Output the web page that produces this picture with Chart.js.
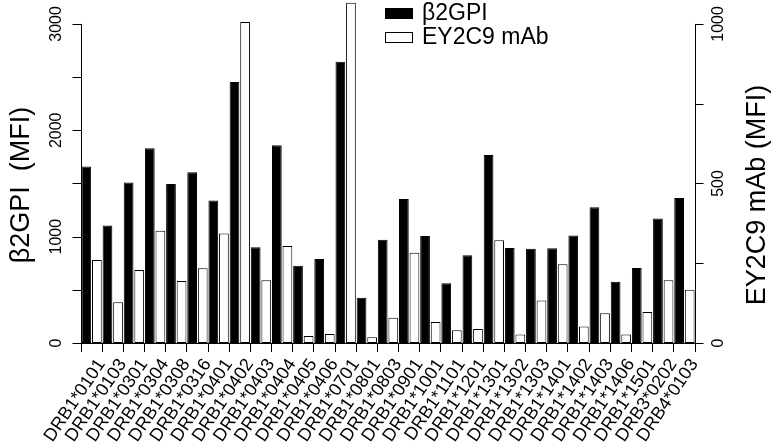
<!DOCTYPE html>
<html>
<head>
<meta charset="utf-8">
<script src="https://cdn.jsdelivr.net/npm/chart.js@4.4.0/dist/chart.umd.min.js"></script>
<style>
  html, body { margin: 0; padding: 0; background: #fff; }
  #wrap { width: 774px; height: 443px; }
</style>
</head>
<body>
<div id="wrap"><canvas id="chart" width="774" height="443"></canvas></div>
<script>
// Data
const alleles = ['DRB1*0101', 'DRB1*0103', 'DRB1*0301', 'DRB1*0304', 'DRB1*0308', 'DRB1*0316',
    'DRB1*0401', 'DRB1*0402', 'DRB1*0403', 'DRB1*0404', 'DRB1*0405', 'DRB1*0406', 'DRB1*0701',
    'DRB1*0801', 'DRB1*0803', 'DRB1*0901', 'DRB1*1001', 'DRB1*1101', 'DRB1*1201', 'DRB1*1301',
    'DRB1*1302', 'DRB1*1303', 'DRB1*1401', 'DRB1*1402', 'DRB1*1403', 'DRB1*1406', 'DRB1*1501',
    'DRB3*0202', 'DRB4*0103'];
const b2gpi = [1660, 1105, 1510, 1830, 1495, 1605, 1340, 2455, 900, 1860, 727, 790, 2645,
    426, 970, 1355, 1005, 561, 825, 1768, 893, 887, 890, 1010, 1276, 577, 705, 1170, 1364];
const ey2c9 = [260, 128, 229, 352, 194, 234, 343, 1006, 197, 304, 22, 28, 1066,
    18, 79, 283, 66, 40, 44, 322, 27, 133, 247, 52, 93, 27, 97, 197, 167];

const leftTicks = [0, 500, 1000, 1500, 2000, 2500, 3000];
const leftLabels = [0, 1000, 2000, 3000];
const rightTicks = [0, 250, 500, 750, 1000];
const rightLabels = [0, 500, 1000];

const FONT = "'Liberation Sans', Arial, Helvetica, sans-serif";

// R-style axes, titles and legend drawn on top of the chart
const rAxes = {
    id: 'rAxes',
    afterDraw(chart) {
        const ctx = chart.ctx;
        const area = chart.chartArea;
        const y = chart.scales.y;
        const y2 = chart.scales.y2;
        ctx.save();
        ctx.strokeStyle = '#000';
        ctx.fillStyle = '#000';
        ctx.lineWidth = 1;

        // left axis
        const lx = Math.round(area.left) + 0.5;
        ctx.beginPath();
        ctx.moveTo(lx, y.getPixelForValue(leftTicks[leftTicks.length - 1]));
        ctx.lineTo(lx, y.getPixelForValue(0));
        leftTicks.forEach(v => {
            const py = Math.round(y.getPixelForValue(v)) + 0.5;
            ctx.moveTo(lx, py);
            ctx.lineTo(lx - 9, py);
        });
        ctx.stroke();

        // right axis
        const rx = Math.round(area.right) + 0.5;
        ctx.beginPath();
        ctx.moveTo(rx, y2.getPixelForValue(rightTicks[rightTicks.length - 1]));
        ctx.lineTo(rx, y2.getPixelForValue(0));
        rightTicks.forEach(v => {
            const py = Math.round(y2.getPixelForValue(v)) + 0.5;
            ctx.moveTo(rx, py);
            ctx.lineTo(rx + 8, py);
        });
        ctx.stroke();

        // tick labels, rotated
        ctx.font = '16px ' + FONT;
        ctx.textAlign = 'center';
        ctx.textBaseline = 'middle';
        leftLabels.forEach(v => {
            ctx.save();
            ctx.translate(area.left - 24, y.getPixelForValue(v));
            ctx.rotate(-Math.PI / 2);
            ctx.fillText(String(v), 0, 0);
            ctx.restore();
        });
        rightLabels.forEach(v => {
            ctx.save();
            ctx.translate(area.right + 24, y2.getPixelForValue(v));
            ctx.rotate(-Math.PI / 2);
            ctx.fillText(String(v), 0, 0);
            ctx.restore();
        });

        // axis titles
        ctx.font = '27px ' + FONT;
        ctx.save();
        ctx.translate(22, 185);
        ctx.rotate(-Math.PI / 2);
        ctx.fillText('\u03B22GPI  (MFI)', 0, 0);
        ctx.restore();
        ctx.save();
        ctx.translate(758, 195);
        ctx.rotate(-Math.PI / 2);
        ctx.fillText('EY2C9 mAb (MFI)', 0, 0);
        ctx.restore();

        // legend
        const items = chart.data.datasets;
        ctx.font = '23px ' + FONT;
        ctx.textAlign = 'left';
        items.forEach((ds, i) => {
            const top = 8 + i * 24;
            ctx.fillStyle = ds.backgroundColor;
            ctx.fillRect(385, top, 28, 11);
            ctx.strokeStyle = '#000';
            ctx.strokeRect(385.5, top + 0.5, 27, 10);
            ctx.fillStyle = '#000';
            ctx.fillText(ds.label, 422, top + 6);
        });
        ctx.restore();
    }
};

const chart = new Chart(document.getElementById('chart'), {
    type: 'bar',
    data: {
        labels: alleles,
        datasets: [{
            label: '\u03B22GPI',
            data: b2gpi,
            yAxisID: 'y',
            backgroundColor: '#000000',
            borderColor: '#000000',
            borderWidth: 1,
            borderSkipped: false
        }, {
            label: 'EY2C9 mAb',
            data: ey2c9,
            yAxisID: 'y2',
            backgroundColor: '#ffffff',
            borderColor: '#000000',
            borderWidth: 1,
            borderSkipped: false
        }]
    },
    options: {
        responsive: false,
        animation: false,
        events: [],
        layout: { padding: { left: 81, right: 79, top: 0, bottom: 0 } },
        plugins: {
            legend: { display: false },
            tooltip: { enabled: false }
        },
        datasets: {
            bar: { barPercentage: 0.92, categoryPercentage: 1.0 }
        },
        scales: {
            x: {
                offset: true,
                afterFit: function(scale) { scale.height = 100; },
                grid: {
                    display: true,
                    offset: true,
                    drawOnChartArea: false,
                    drawTicks: true,
                    tickLength: 9,
                    color: '#000'
                },
                border: { display: true, color: '#000', width: 1 },
                ticks: {
                    autoSkip: false,
                    minRotation: 56,
                    maxRotation: 56,
                    labelOffset: 10,
                    padding: 3,
                    color: '#000',
                    font: { family: FONT, size: 18 }
                }
            },
            y: {
                display: false,
                min: 0,
                max: 3225
            },
            y2: {
                display: false,
                position: 'right',
                min: 0,
                max: 1075
            }
        }
    },
    plugins: [rAxes]
});
</script>
</body>
</html>
